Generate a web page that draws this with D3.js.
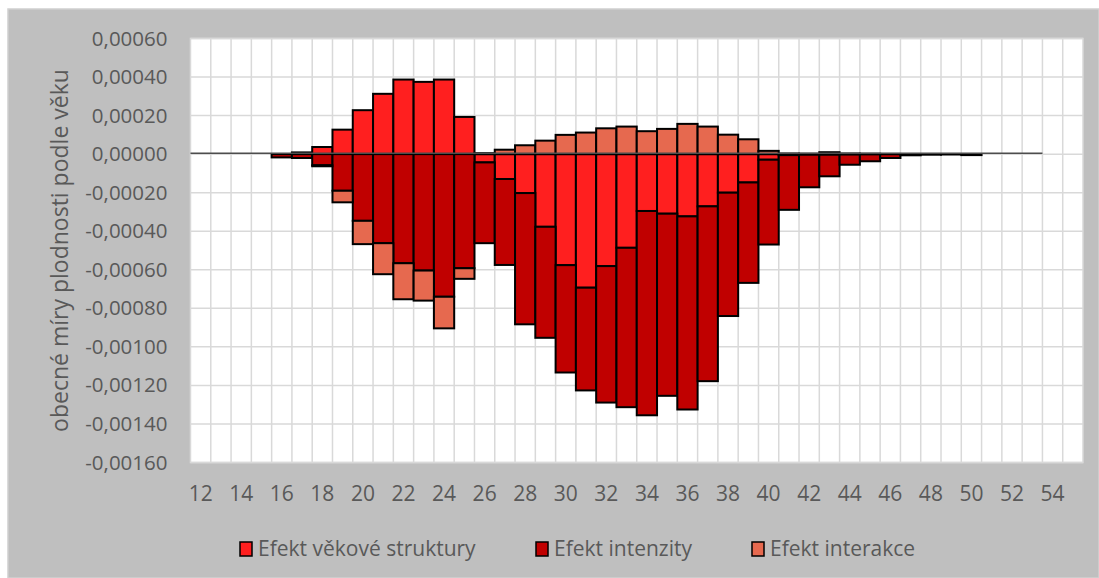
<!DOCTYPE html>
<html>
<head>
<meta charset="utf-8">
<script src="https://cdn.jsdelivr.net/npm/d3@7"></script>
<style>
  body { margin: 0; background: #fff; }
  text { font-family: "Open Sans", sans-serif; fill: #595959; }
</style>
</head>
<body>
<script>
// ages (categories)
const ages = [12, 13, 14, 15, 16, 17, 18, 19, 20, 21, 22, 23, 24, 25, 26, 27, 28, 29, 30, 31, 32, 33,
              34, 35, 36, 37, 38, 39, 40, 41, 42, 43, 44, 45, 46, 47, 48, 49, 50, 51, 52, 53, 54, 55];

// Efekt věkové struktury
const struktura = [0, 0, 0, 0, 0, 0.000009, 0.000037, 0.000127, 0.000228, 0.000313, 0.000387, 0.000375,
  0.000387, 0.000193, -0.000043, -0.000129, -0.000202, -0.000377, -0.000576, -0.000693, -0.000581,
  -0.000486, -0.000295, -0.000309, -0.000323, -0.000271, -0.0002, -0.000147, -0.000029, -0.000005,
  -0.000003, -0.000003, -0.000002, -0.000001, 0, 0, 0, 0, 0, 0, 0, 0, 0, 0];

// Efekt intenzity
const intenzita = [0, 0, 0, 0, -0.000017, -0.00002, -0.000058, -0.00019, -0.000346, -0.000462, -0.000566,
  -0.000604, -0.00074, -0.000592, -0.000419, -0.000446, -0.000681, -0.000576, -0.000557, -0.000533,
  -0.000708, -0.000827, -0.00106, -0.000945, -0.001002, -0.000907, -0.00064, -0.000521, -0.00044,
  -0.000284, -0.000169, -0.000112, -0.000053, -0.000036, -0.00002, -0.000006, -0.000003, -0.000002,
  -0.000005, 0, 0, 0, 0, 0];

// Efekt interakce
const interakce = [0, 0, 0, 0, 0, 0, -0.000005, -0.00006, -0.000121, -0.000161, -0.000187, -0.000156,
  -0.000164, -0.000055, 0.000005, 0.000023, 0.000046, 0.00007, 0.0001, 0.000112, 0.000134, 0.000143,
  0.000119, 0.000131, 0.000157, 0.000143, 0.000101, 0.000077, 0.000017, 0.000003, 0.000002, 0.00001,
  0.000003, 0.000002, 0.000001, 0, 0, 0, 0, 0, 0, 0, 0, 0];

const seriesNames = ["Efekt věkové struktury", "Efekt intenzity", "Efekt interakce"];
const colors = ["#ff1f1f", "#c00000", "#e6694f"];
const yTicks = [0.0006, 0.0004, 0.0002, 0, -0.0002, -0.0004, -0.0006, -0.0008, -0.001, -0.0012, -0.0014, -0.0016];
const xLabels = [12, 14, 16, 18, 20, 22, 24, 26, 28, 30, 32, 34, 36, 38, 40, 42, 44, 46, 48, 50, 52, 54];

const W = 1099, H = 578;
const plotL = 190.5, plotR = 1083, plotT = 38.5, plotB = 462.5;

const svg = d3.select("body").append("svg")
  .attr("width", W)
  .attr("height", H);

// grey chart area
svg.append("rect")
  .attr("x", 8).attr("y", 9)
  .attr("width", W - 8).attr("height", H - 9)
  .attr("fill", "#bfbfbf")
  .attr("stroke", "#d0d0d0")
  .attr("stroke-width", 1.5);

svg.append("rect")
  .attr("x", plotL).attr("y", plotT)
  .attr("width", plotR - plotL).attr("height", plotB - plotT)
  .attr("fill", "#fff")
  .attr("stroke", "#d9d9d9")
  .attr("stroke-width", 1.5);

const x = d3.scaleBand().domain(ages).range([plotL, plotR]).padding(0);
const y = d3.scaleLinear().domain([-0.0016, 0.0006]).range([plotB, plotT]);

// grid
svg.append("g").selectAll("line")
  .data(ages.slice(1))
  .join("line")
  .attr("x1", d => x(d)).attr("x2", d => x(d))
  .attr("y1", plotT).attr("y2", plotB)
  .attr("stroke", "#d9d9d9").attr("stroke-width", 1.5);

svg.append("g").selectAll("line")
  .data(yTicks)
  .join("line")
  .attr("x1", plotL).attr("x2", plotR)
  .attr("y1", d => y(d)).attr("y2", d => y(d))
  .attr("stroke", "#d9d9d9").attr("stroke-width", 1.5);

// stacked bars
const table = ages.map((a, i) => ({ age: a, s0: struktura[i], s1: intenzita[i], s2: interakce[i] }));
const stack = d3.stack().keys(["s0", "s1", "s2"]).offset(d3.stackOffsetDiverging);
const layers = stack(table);

svg.append("g").selectAll("g")
  .data(layers)
  .join("g")
  .attr("fill", (d, i) => colors[i])
  .selectAll("rect")
  .data(d => d.filter(p => p[0] !== p[1]))
  .join("rect")
  .attr("x", d => x(d.data.age))
  .attr("width", x.bandwidth())
  .attr("y", d => y(Math.max(d[0], d[1])))
  .attr("height", d => Math.abs(y(d[0]) - y(d[1])))
  .attr("stroke", "#000")
  .attr("stroke-width", 2);

// zero axis line
svg.append("line")
  .attr("x1", plotL).attr("x2", x(53) + x.bandwidth())
  .attr("y1", y(0) - 1).attr("y2", y(0) - 1)
  .attr("stroke", "#4d4d4d").attr("stroke-width", 1.5);

// axes
const loc = d3.formatLocale({ decimal: ",", thousands: " ", grouping: [3], currency: ["", ""], minus: "-" });
const fmt = loc.format(".5f");

const yAxis = svg.append("g")
  .attr("transform", `translate(${plotL},0)`)
  .call(d3.axisLeft(y).tickValues(yTicks).tickFormat(fmt).tickSize(0).tickPadding(23));
yAxis.select(".domain").remove();
yAxis.selectAll("text").style("font-size", "20.5px").attr("fill", "#595959");

const xAxis = svg.append("g")
  .attr("transform", `translate(0,${plotB})`)
  .call(d3.axisBottom(x).tickValues(xLabels).tickSize(0).tickPadding(24));
xAxis.select(".domain").remove();
xAxis.selectAll("text").style("font-size", "21px").attr("fill", "#595959");

// y title
svg.append("text")
  .attr("transform", `translate(68,${(plotT + plotB) / 2}) rotate(-90)`)
  .attr("text-anchor", "middle")
  .style("font-size", "23px")
  .text("obecné míry plodnosti podle věku");

// legend
const legendX = [239, 535, 751];
const legend = svg.append("g").selectAll("g")
  .data(seriesNames)
  .join("g")
  .attr("transform", (d, i) => `translate(${legendX[i]},549)`);

legend.append("rect")
  .attr("x", 1).attr("y", -7)
  .attr("width", 12).attr("height", 14)
  .attr("fill", (d, i) => colors[i])
  .attr("stroke", "#000")
  .attr("stroke-width", 1.5);

legend.append("text")
  .attr("x", 19).attr("dy", "0.35em")
  .style("font-size", "21px")
  .text(d => d);
</script>
</body>
</html>
